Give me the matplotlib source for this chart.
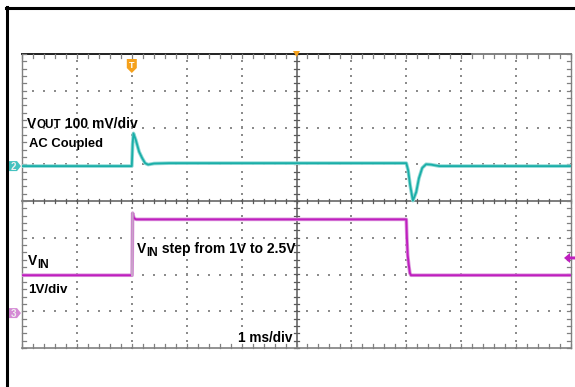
import matplotlib
matplotlib.use("Agg")
import matplotlib.pyplot as plt
import numpy as np
from matplotlib.patches import Polygon

# ---------------- data ----------------
# time in ms (trigger at 0), 1 ms/div, screen spans -2 .. 8 ms
t_out = [-2.0, 0.0, 0.015, 0.03, 0.073, 0.133, 0.188, 0.242, 0.297, 0.406, 0.68,
         5.0, 5.033, 5.07, 5.12, 5.18, 5.23, 5.29, 5.36, 5.45, 5.6, 8.0]
v_out_mv = [0, 0, 60, 89, 71, 39, 22, 8, 4, 7, 8,
            8, -11, -52, -94, -71, -33, -5, 5, 4, 0, 0]

t_in = [-2.0, 0.005, 0.015, 0.04, 0.08, 5.0, 5.01, 5.025, 5.045, 5.065, 5.085, 8.0]
v_in = [1.03, 1.03, 2.72, 2.58, 2.55, 2.55, 2.07, 1.58, 1.31, 1.09, 1.03, 1.03]

CH2_OFFSET_DIV = 0.95     # VOUT ground marker position (div)
CH2_SCALE_MV = 100.0      # mV/div
CH3_OFFSET_DIV = -3.05    # VIN ground marker position (div)
CH3_SCALE_V = 1.0         # V/div
TRIG_LEVEL_V = 1.5

X_MIN, X_MAX = -2.0, 8.0
Y_MIN, Y_MAX = -4.0, 4.0

W, H = 575, 387
fig = plt.figure(figsize=(W / 100, H / 100), dpi=100)
fig.patch.set_facecolor("white")

# plot area in pixels
L, R, T, B = 22, 571, 54, 348
ax = fig.add_axes([L / W, (H - B) / H, (R - L) / W, (B - T) / H])
ax.set_xlim(X_MIN, X_MAX)
ax.set_ylim(Y_MIN, Y_MAX)
ax.axis("off")

# ---------------- graticule ----------------
px_x = (R - L) / (X_MAX - X_MIN)   # px per ms
px_y = (B - T) / (Y_MAX - Y_MIN)   # px per div
dot_c = "#8c8c8c"
majors_x = np.arange(X_MIN, X_MAX + 0.001, 1.0)
majors_y = np.arange(Y_MIN, Y_MAX + 0.001, 1.0)
minors_x = np.arange(X_MIN, X_MAX + 0.001, 0.2)
minors_y = np.arange(Y_MIN, Y_MAX + 0.001, 0.2)

for xm in majors_x[1:-1]:
    if abs(xm - 3.0) < 1e-6:
        continue
    ax.scatter(np.full_like(minors_y, xm), minors_y, s=1.4, c=dot_c, marker="s", linewidths=0)
for ym in majors_y[1:-1]:
    if abs(ym) < 1e-6:
        continue
    ax.scatter(minors_x, np.full_like(minors_x, ym), s=1.4, c=dot_c, marker="s", linewidths=0)

tick_h = 2.2 / px_x   # half length of horizontal tick (ms)
tick_v = 2.2 / px_y   # half length of vertical tick (div)
axis_c = "#5a5a5a"
# center lines with ticks
ax.plot([X_MIN, X_MAX], [0, 0], color=axis_c, lw=1.1, clip_on=False)
ax.plot([3.0, 3.0], [Y_MIN, Y_MAX], color=axis_c, lw=1.1, clip_on=False)
for xm in minors_x:
    ax.plot([xm, xm], [-tick_v, tick_v], color=axis_c, lw=0.9, clip_on=False)
for ym in minors_y:
    ax.plot([3.0 - tick_h, 3.0 + tick_h], [ym, ym], color=axis_c, lw=0.9, clip_on=False)

# frame edges with inward ticks
edge_c = "#808080"
ax.plot([X_MIN, X_MIN], [Y_MIN, Y_MAX], color=edge_c, lw=1.0, clip_on=False)
ax.plot([X_MAX, X_MAX], [Y_MIN, Y_MAX], color=edge_c, lw=1.0, clip_on=False)
ax.plot([X_MIN, X_MAX], [Y_MIN, Y_MIN], color=edge_c, lw=1.2, clip_on=False)
ax.plot([X_MIN, 6.2], [Y_MAX, Y_MAX], color="#202020", lw=1.4, clip_on=False)
ax.plot([6.2, X_MAX], [Y_MAX, Y_MAX], color=edge_c, lw=1.4, clip_on=False)
for xm in minors_x:
    ax.plot([xm, xm], [Y_MIN, Y_MIN + 2 * tick_v], color=edge_c, lw=0.9, clip_on=False)
    ax.plot([xm, xm], [Y_MAX, Y_MAX - 2 * tick_v], color=edge_c, lw=0.9, clip_on=False)
for ym in minors_y:
    ax.plot([X_MIN, X_MIN + 2 * tick_h], [ym, ym], color=edge_c, lw=0.9, clip_on=False)
    ax.plot([X_MAX, X_MAX - 2 * tick_h], [ym, ym], color=edge_c, lw=0.9, clip_on=False)

# ---------------- traces ----------------
teal = "#1aaea8"
mag = "#bf1fbf"
y_out = [CH2_OFFSET_DIV + v / CH2_SCALE_MV for v in v_out_mv]
y_in = [CH3_OFFSET_DIV + v / CH3_SCALE_V for v in v_in]
ax.plot(t_out, y_out, color="#8fd9d5", lw=2.6, solid_joinstyle="round")
ax.plot(t_out, y_out, color=teal, lw=1.3, solid_joinstyle="round")
ax.plot(t_in, y_in, color="#dc98dc", lw=2.6)
ax.plot(t_in, y_in, color=mag, lw=1.4)
# fast rising edge renders faint on the scope
ax.plot(t_in[1:3], y_in[1:3], color="#c9a3c9", lw=1.6)

# ---------------- overlay (pixel coords) ----------------
ov = fig.add_axes([0, 0, 1, 1], facecolor="none")
ov.set_xlim(0, W)
ov.set_ylim(H, 0)
ov.axis("off")

def to_px(x, y):
    dx, dy = ax.transData.transform((x, y))
    return dx, H - dy

# outer black frame
ov.plot([7, 7], [7, H], color="black", lw=2.2)
ov.plot([6, W], [8, 8], color="black", lw=2.2)

# channel ground markers
_, y2 = to_px(X_MIN, CH2_OFFSET_DIV)
_, y3 = to_px(X_MIN, CH3_OFFSET_DIV)
for yy, fc, lab in [(y2, "#46c2c0", "2"), (y3, "#d58ad5", "3")]:
    ov.add_patch(Polygon([(8, yy - 5), (17, yy - 5), (21, yy), (17, yy + 5), (8, yy + 5)],
                         closed=True, fc=fc, ec="none"))
    ov.text(13, yy + 0.5, lab, color="#eeeeee", fontsize=7, fontweight="bold",
            ha="center", va="center", family="Liberation Sans")

# trigger position marker
tx, _ = to_px(0.0, 0)
ov.add_patch(Polygon([(tx - 5, 59), (tx + 5, 59), (tx + 5, 68), (tx, 73), (tx - 5, 68)],
                     closed=True, fc="#f5a11c", ec="none"))
ov.text(tx, 65.5, "T", color="white", fontsize=6.5, fontweight="bold",
        ha="center", va="center", family="Liberation Sans")
cx, _ = to_px(3.0, 0)
ov.add_patch(Polygon([(cx - 3.5, 51), (cx + 3.5, 51), (cx, 57)], closed=True, fc="#f5a11c", ec="none"))

# trigger level arrow (right)
_, yt = to_px(X_MAX, CH3_OFFSET_DIV + TRIG_LEVEL_V / CH3_SCALE_V)
ov.add_patch(Polygon([(564, yt), (570, yt - 5), (570, yt - 1.5), (576, yt - 1.5),
                      (576, yt + 1.5), (570, yt + 1.5), (570, yt + 5)],
                     closed=True, fc=mag, ec="none"))

# ---------------- labels ----------------
fp = dict(family="Liberation Sans", fontweight="bold", color="black", va="baseline")

def vlabel(x, y, sub, rest, sub_drop, fs=10, fs_sub=8.4):
    t1 = ov.text(x, y, "V", fontsize=fs, **fp)
    fig.canvas.draw()
    bb = t1.get_window_extent()
    x2 = x + bb.width
    t2 = ov.text(x2, y + sub_drop, sub, fontsize=fs_sub, **fp)
    fig.canvas.draw()
    bb2 = t2.get_window_extent()
    x3 = x2 + bb2.width
    if rest:
        ov.text(x3, y, rest, fontsize=fs, **fp)

vlabel(27, 128, "OUT", " 100 mV/div", 0.5)
ov.text(29, 147, "AC Coupled", fontsize=9.4, **fp)
vlabel(28, 265, "IN", "", 3)
ov.text(28, 293, "1V/div", fontsize=9.6, **fp)
vlabel(137, 253, "IN", " step from 1V to 2.5V", 3)
ov.text(238, 342, "1 ms/div", fontsize=9.8, **fp)

fig.savefig("out.png", dpi=100)
